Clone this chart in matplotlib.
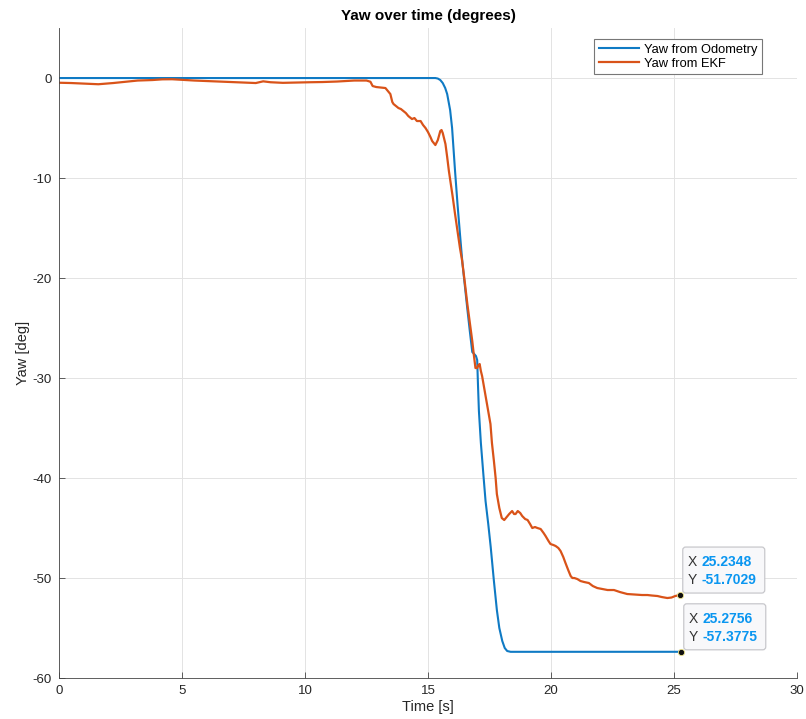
import matplotlib
matplotlib.use("Agg")
import matplotlib.pyplot as plt
from matplotlib.patches import FancyBboxPatch
from matplotlib.transforms import IdentityTransform

plt.rcParams['font.family'] = ['Liberation Sans', 'DejaVu Sans']
plt.rcParams['axes.unicode_minus'] = False

# yaw from odometry
t_odom = [0.0, 15.3, 15.4, 15.5, 15.6, 15.7, 15.78, 15.9, 15.98, 16.1, 16.2, 16.3, 16.4,
          16.5, 16.6, 16.7, 16.8, 16.88, 16.95, 17.0, 17.03, 17.07, 17.15, 17.25, 17.34,
          17.45, 17.55, 17.68, 17.8, 17.9, 18.02, 18.12, 18.22, 18.36, 25.2756]
yaw_odom = [0.0, 0.0, -0.05, -0.2, -0.5, -1.0, -1.6, -3.2, -5.0, -9.3, -12.6, -15.6, -18.5,
            -20.8, -23.1, -25.3, -27.4, -27.6, -27.8, -28.2, -30.5, -33.3, -36.5, -39.6, -42.3,
            -44.6, -46.9, -50.3, -53.2, -55.0, -56.3, -57.0, -57.3, -57.38, -57.3775]

# yaw from EKF
t_ekf = [0.0, 0.5, 1.0, 1.6, 2.2, 2.8, 3.2, 3.8, 4.2, 4.6, 5.0, 5.5, 6.0, 6.5, 7.0, 7.5,
         8.0, 8.3, 8.6, 9.1, 9.6, 10.2, 10.7, 11.3, 12.0, 12.5, 12.66, 12.75, 12.9, 13.1,
         13.27, 13.4, 13.47, 13.55, 13.6, 13.7, 13.8, 13.9, 14.0, 14.1, 14.2, 14.35, 14.45,
         14.55, 14.7, 14.8, 14.9, 15.0, 15.1, 15.17, 15.3, 15.4, 15.5, 15.55, 15.6, 15.71,
         15.78, 15.85, 15.91, 16.0, 16.1, 16.2, 16.3, 16.39, 16.5, 16.6, 16.73, 16.8, 16.86,
         16.93, 17.0, 17.05, 17.1, 17.15, 17.2, 17.3, 17.4, 17.54, 17.6, 17.68, 17.75, 17.8,
         17.9, 18.0, 18.1, 18.2, 18.3, 18.42, 18.5, 18.56, 18.65, 18.75, 18.83, 18.95, 19.05,
         19.15, 19.24, 19.35, 19.45, 19.58, 19.7, 19.78, 19.9, 19.98, 20.1, 20.19, 20.3,
         20.39, 20.5, 20.59, 20.7, 20.8, 20.87, 20.95, 21.07, 21.2, 21.35, 21.54, 21.7,
         21.88, 22.1, 22.3, 22.56, 22.8, 23.1, 23.4, 23.7, 23.92, 24.1, 24.33, 24.5, 24.73,
         24.9, 25.05, 25.2348]
yaw_ekf = [-0.47, -0.5, -0.55, -0.62, -0.5, -0.35, -0.25, -0.2, -0.13, -0.12, -0.18, -0.25,
           -0.3, -0.35, -0.4, -0.45, -0.5, -0.33, -0.42, -0.48, -0.45, -0.42, -0.4, -0.35,
           -0.25, -0.25, -0.37, -0.8, -0.9, -0.95, -1.0, -1.4, -1.6, -2.4, -2.6, -2.8, -3.0,
           -3.1, -3.3, -3.5, -3.8, -4.1, -4.0, -4.3, -4.3, -4.7, -5.0, -5.4, -5.9, -6.3, -6.7,
           -6.2, -5.3, -5.2, -5.5, -6.6, -7.9, -9.3, -10.3, -11.8, -13.6, -15.3, -17.0, -18.3,
           -20.5, -22.6, -25.0, -26.3, -27.6, -29.0, -29.0, -28.7, -28.6, -29.3, -29.8, -31.2,
           -32.6, -34.6, -36.5, -38.3, -40.0, -41.6, -43.0, -44.0, -44.2, -43.9, -43.6, -43.3,
           -43.6, -43.6, -43.3, -43.5, -43.8, -44.1, -44.2, -44.6, -45.0, -44.9, -45.0, -45.1,
           -45.5, -45.8, -46.3, -46.6, -46.7, -46.8, -47.0, -47.3, -47.9, -48.5, -49.2, -49.8,
           -50.0, -50.0, -50.1, -50.3, -50.4, -50.5, -50.8, -51.0, -51.1, -51.2, -51.2, -51.4,
           -51.6, -51.65, -51.7, -51.7, -51.75, -51.8, -51.9, -52.0, -51.95, -51.8, -51.7029]

x_ticks = [0, 5, 10, 15, 20, 25, 30]
y_ticks = [0, -10, -20, -30, -40, -50, -60]

blue = '#0f7ac4'
orange = '#D95319'
tip_blue = '#0A96F0'

fig = plt.figure(figsize=(8.06, 7.19), dpi=100)
ax = fig.add_axes([0.0732, 0.057, 0.9156, 0.904])

ax.plot(t_odom, yaw_odom, color=blue, lw=1.5, label='Yaw from Odometry')
ax.plot(t_ekf, yaw_ekf, color=orange, lw=1.6, label='Yaw from EKF')

ax.set_xlim(0, 30)
ax.set_ylim(-60, 5)
ax.set_xticks(x_ticks)
ax.set_yticks(y_ticks)
ax.grid(True, color='#e3e3e3', lw=0.7)
ax.set_axisbelow(True)
for side in ['top', 'right']:
    ax.spines[side].set_visible(False)
for side in ['left', 'bottom']:
    ax.spines[side].set_color('#444444')
    ax.spines[side].set_linewidth(0.6)
ax.tick_params(direction='in', length=4, width=0.6, color='#444444',
               labelsize=9.5, labelcolor='#262626', pad=5)

ax.set_title('Yaw over time (degrees)', fontsize=11, fontweight='bold', pad=6)
ax.set_xlabel('Time [s]', fontsize=10.5, color='#262626', labelpad=2)
ax.set_ylabel('Yaw [deg]', fontsize=10.5, color='#262626', labelpad=2)

leg = ax.legend(loc='upper right', bbox_to_anchor=(0.9525, 0.983), borderaxespad=0,
                fontsize=9.3, fancybox=False, framealpha=1, edgecolor='#777777',
                handlelength=3.1, borderpad=0.35, labelspacing=0.15, handletextpad=0.4)
leg.get_frame().set_linewidth(0.8)

# data tips at the last sample of each series
tips = [(t_ekf[-1], yaw_ekf[-1]), (t_odom[-1], yaw_odom[-1])]
for tx, ty in tips:
    px, py = ax.transData.transform((tx, ty))
    box = FancyBboxPatch((px + 3, py + 2), 82, 46,
                         boxstyle='round,pad=0,rounding_size=3',
                         transform=IdentityTransform(), facecolor='#f8f8fa',
                         edgecolor='#c8c8cc', lw=0.9, zorder=5, clip_on=False)
    fig.add_artist(box)
    rows = [('X', f'{tx:.4f}', 33), ('Y', f'{ty:.4f}', 15)]
    for lab, val, dy in rows:
        fig.text(px + 8, py + dy, lab, transform=IdentityTransform(), fontsize=10,
                 color='#333333', va='center', ha='left', zorder=6)
        fig.text(px + 22, py + dy, val, transform=IdentityTransform(), fontsize=10,
                 color=tip_blue, fontweight='bold', va='center', ha='left', zorder=6)
    ax.plot([tx], [ty], 'o', ms=4.5, mfc='#111111', mec='#f0e68c', mew=0.6,
            zorder=7, clip_on=False)

fig.savefig('out.png', dpi=100)
